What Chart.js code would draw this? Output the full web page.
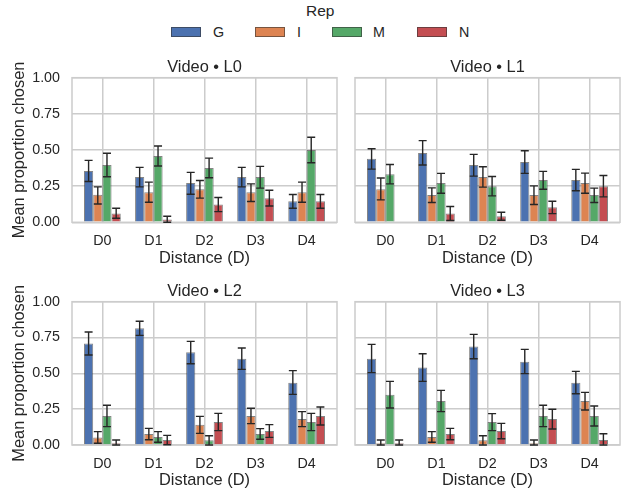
<!DOCTYPE html>
<html>
<head>
<meta charset="utf-8">
<script src="https://cdn.jsdelivr.net/npm/chart.js@4.4.1/dist/chart.umd.min.js"></script>
<style>
  body { margin: 0; background: #fff; }
  #wrap { position: relative; width: 623px; height: 492px; overflow: hidden;
          font-family: 'Liberation Sans', Arial, sans-serif; color: #262626; }
  canvas { position: absolute; }
  .lg { position: absolute; line-height: 1; white-space: nowrap; }
  .sw { position: absolute; width: 30px; height: 10px; box-sizing: border-box;
        border: 1px solid rgba(51, 51, 51, 0.6); }
</style>
</head>
<body>
<div id="wrap">
  <div class="lg" style="left:306px; top:3px; font-size:15.5px;">Rep</div>
  <div class="sw" style="left:171px; top:27px; background:#4C72B0;"></div>
  <div class="lg" style="left:213px; top:25px; font-size:14.3px;">G</div>
  <div class="sw" style="left:255px; top:27px; background:#DD8452;"></div>
  <div class="lg" style="left:297px; top:25px; font-size:14.3px;">I</div>
  <div class="sw" style="left:332px; top:27px; background:#55A868;"></div>
  <div class="lg" style="left:373px; top:25px; font-size:14.3px;">M</div>
  <div class="sw" style="left:417px; top:27px; background:#C44E52;"></div>
  <div class="lg" style="left:459px; top:25px; font-size:14.3px;">N</div>
  <canvas id="c-L0" width="340" height="230" style="left:0; top:40px;"></canvas>
  <canvas id="c-L1" width="283" height="230" style="left:340px; top:40px;"></canvas>
  <canvas id="c-L2" width="340" height="228" style="left:0; top:264px;"></canvas>
  <canvas id="c-L3" width="283" height="228" style="left:340px; top:264px;"></canvas>
</div>
<script>
  // categories and series
  const distances = ['D0', 'D1', 'D2', 'D3', 'D4'];
  const reps = ['G', 'I', 'M', 'N'];
  const repColors = ['#4C72B0', '#DD8452', '#55A868', '#C44E52'];

  // rows: G, I, M, N ; columns: D0..D4
  const L0_mean = [
    [0.354, 0.313, 0.271, 0.313, 0.146],
    [0.190, 0.208, 0.229, 0.208, 0.208],
    [0.396, 0.458, 0.375, 0.313, 0.500],
    [0.060, 0.019, 0.123, 0.167, 0.146]
  ];
  const L0_lo = [
    [0.282, 0.245, 0.194, 0.245, 0.097],
    [0.127, 0.139, 0.167, 0.144, 0.139],
    [0.315, 0.389, 0.308, 0.236, 0.412],
    [0.028, 0.000, 0.074, 0.113, 0.097]
  ];
  const L0_hi = [
    [0.428, 0.380, 0.345, 0.380, 0.192],
    [0.245, 0.278, 0.289, 0.266, 0.278],
    [0.477, 0.528, 0.444, 0.387, 0.588],
    [0.097, 0.042, 0.171, 0.222, 0.192]
  ];

  const L1_mean = [
    [0.440, 0.479, 0.396, 0.417, 0.292],
    [0.229, 0.188, 0.313, 0.188, 0.271],
    [0.333, 0.271, 0.250, 0.292, 0.188],
    [0.000, 0.060, 0.042, 0.104, 0.250]
  ];
  const L1_lo = [
    [0.368, 0.396, 0.319, 0.338, 0.218],
    [0.155, 0.137, 0.243, 0.123, 0.201],
    [0.266, 0.201, 0.183, 0.229, 0.137],
    [0.000, 0.012, 0.014, 0.060, 0.176]
  ];
  const L1_hi = [
    [0.509, 0.565, 0.470, 0.495, 0.366],
    [0.306, 0.238, 0.384, 0.252, 0.340],
    [0.400, 0.338, 0.317, 0.352, 0.236],
    [0.000, 0.109, 0.069, 0.146, 0.324]
  ];

  const L2_mean = [
    [0.709, 0.814, 0.647, 0.602, 0.435],
    [0.053, 0.077, 0.142, 0.202, 0.181],
    [0.202, 0.056, 0.033, 0.077, 0.160],
    [0.012, 0.035, 0.160, 0.098, 0.202]
  ];
  const L2_lo = [
    [0.628, 0.765, 0.567, 0.528, 0.353],
    [0.012, 0.037, 0.081, 0.149, 0.128],
    [0.128, 0.019, 0.000, 0.040, 0.100],
    [0.000, 0.002, 0.100, 0.053, 0.140]
  ];
  const L2_hi = [
    [0.788, 0.863, 0.723, 0.677, 0.519],
    [0.093, 0.116, 0.200, 0.256, 0.233],
    [0.277, 0.093, 0.065, 0.114, 0.221],
    [0.035, 0.067, 0.221, 0.142, 0.265]
  ];

  const L3_mean = [
    [0.602, 0.540, 0.688, 0.581, 0.435],
    [0.012, 0.056, 0.033, 0.012, 0.307],
    [0.351, 0.307, 0.160, 0.202, 0.202],
    [0.012, 0.077, 0.098, 0.181, 0.035]
  ];
  const L3_lo = [
    [0.505, 0.444, 0.602, 0.498, 0.358],
    [0.000, 0.019, 0.000, 0.000, 0.244],
    [0.258, 0.233, 0.100, 0.128, 0.133],
    [0.000, 0.037, 0.044, 0.112, 0.000]
  ];
  const L3_hi = [
    [0.702, 0.637, 0.772, 0.667, 0.514],
    [0.035, 0.093, 0.065, 0.035, 0.367],
    [0.444, 0.381, 0.219, 0.277, 0.272],
    [0.035, 0.116, 0.151, 0.249, 0.079]
  ];

  const yTicks = [0, 0.25, 0.5, 0.75, 1];

  const TEXT = '#262626';
  const GRID = '#cccccc';
  Chart.defaults.font.family = "'Liberation Sans', Arial, sans-serif";
  Chart.defaults.color = TEXT;

  // draws the confidence intervals with caps on top of every bar
  const errorBars = {
    id: 'errorBars',
    afterDatasetsDraw(chart) {
      const ctx = chart.ctx;
      const yScale = chart.scales.y;
      ctx.save();
      ctx.strokeStyle = '#262626';
      ctx.lineWidth = 1.4;
      chart.data.datasets.forEach((ds, i) => {
        chart.getDatasetMeta(i).data.forEach((bar, j) => {
          const lo = ds.lo[j], hi = ds.hi[j];
          if (hi - lo <= 0) return;
          const x = bar.x;
          const y0 = yScale.getPixelForValue(lo);
          const y1 = yScale.getPixelForValue(hi);
          ctx.beginPath();
          ctx.moveTo(x, y0); ctx.lineTo(x, y1);
          ctx.moveTo(x - 4, y0); ctx.lineTo(x + 4, y0);
          ctx.moveTo(x - 4, y1); ctx.lineTo(x + 4, y1);
          ctx.stroke();
        });
      });
      ctx.restore();
    }
  };

  // light frame around the plot area (seaborn whitegrid spines)
  const frame = {
    id: 'frame',
    beforeDatasetsDraw(chart) {
      const { ctx, chartArea: a } = chart;
      ctx.save();
      ctx.strokeStyle = GRID;
      ctx.lineWidth = 1.5;
      ctx.strokeRect(a.left, a.top, a.right - a.left, a.bottom - a.top);
      ctx.restore();
    }
  };

  function makePanel(id, mean, lo, hi, leftCol, xHeight) {
    const datasets = reps.map((rep, k) => ({
      label: rep,
      data: distances.map((d, j) => ({ x: j, y: mean[k][j] })),
      lo: lo[k],
      hi: hi[k],
      backgroundColor: repColors[k],
      borderColor: 'rgba(51,51,51,0.6)',
      borderWidth: 1,
      categoryPercentage: 0.72,
      barPercentage: 1
    }));

    new Chart(document.getElementById('c-' + id), {
      type: 'bar',
      data: { datasets },
      plugins: [frame, errorBars],
      options: {
        responsive: false,
        animation: false,
        devicePixelRatio: 1,
        layout: { padding: { left: 0, right: 3, top: 0, bottom: 0 } },
        plugins: {
          legend: { display: false },
          tooltip: { enabled: false },
          title: {
            display: true,
            text: 'Video • ' + id,
            fullSize: false,
            color: TEXT,
            font: { size: 16.4, weight: 'normal' },
            padding: { top: 17.5, bottom: 0.5 }
          }
        },
        scales: {
          x: {
            type: 'linear',
            min: -0.595,
            max: 4.595,
            offset: false,
            afterBuildTicks: s => { s.ticks = distances.map((d, i) => ({ value: i })); },
            afterFit: s => { s.height = xHeight; },
            ticks: {
              callback: v => distances[v],
              padding: 10,
              autoSkip: false,
              maxRotation: 0,
              color: TEXT,
              font: { size: 14.3 }
            },
            grid: { color: GRID, lineWidth: 1.5, drawTicks: false, offset: false },
            border: { display: false },
            title: {
              display: true,
              text: 'Distance (D)',
              color: TEXT,
              font: { size: 16.4 },
              padding: { top: 0, bottom: 1.7 }
            }
          },
          y: {
            min: 0,
            max: 1,
            afterBuildTicks: s => { s.ticks = yTicks.map(v => ({ value: v })); },
            afterFit: s => { s.width = leftCol ? 72 : 15; },
            ticks: {
              display: leftCol,
              padding: 12,
              callback: v => v.toFixed(2),
              color: TEXT,
              font: { size: 14.3 }
            },
            grid: { color: GRID, lineWidth: 1.5, drawTicks: false },
            border: { display: false },
            title: {
              display: leftCol,
              text: 'Mean proportion chosen',
              color: TEXT,
              font: { size: 16.4 },
              padding: { top: 9.7, bottom: 0 }
            }
          }
        }
      }
    });
  }

  makePanel('L0', L0_mean, L0_lo, L0_hi, true, 47.7);
  makePanel('L1', L1_mean, L1_lo, L1_hi, false, 47.7);
  makePanel('L2', L2_mean, L2_lo, L2_hi, true, 47);
  makePanel('L3', L3_mean, L3_lo, L3_hi, false, 47);
</script>
</body>
</html>
